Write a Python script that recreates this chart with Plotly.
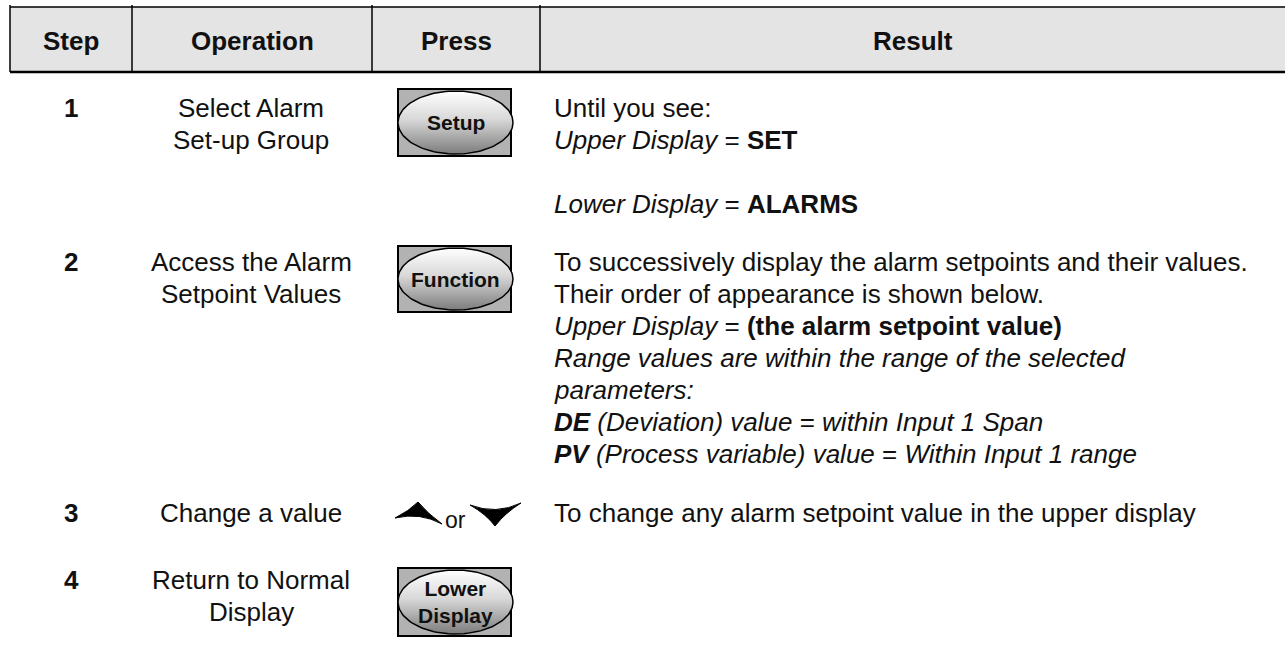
import numpy as np
import plotly.graph_objects as go

W, H = 1285, 652
FONT = "Liberation Sans, Arial, sans-serif"

# ---- table content ----
headers = ["Step", "Operation", "Press", "Result"]
steps = ["1", "2", "3", "4"]
operations = [
    ["Select Alarm", "Set-up Group"],
    ["Access the Alarm", "Setpoint Values"],
    ["Change a value"],
    ["Return to Normal", "Display"],
]
press_keys = ["Setup", "Function", "arrows", "Lower<br>Display"]
results = [
    ["Until you see:",
     "<i>Upper Display</i> = <b>SET</b>",
     "",
     "<i>Lower Display</i> = <b>ALARMS</b>"],
    ["To successively display the alarm setpoints and their values.",
     "Their order of appearance is shown below.",
     "<i>Upper Display</i> = <b>(the alarm setpoint value)</b>",
     "<i>Range values are within the range of the selected</i>",
     "<i>parameters:</i>",
     "<b><i>DE</i></b><i> (Deviation) value</i> = <i>within Input 1 Span</i>",
     "<b><i>PV</i></b><i> (Process variable) value</i> = <i>Within Input 1 range</i>"],
    ["To change any alarm setpoint value in the upper display"],
    [],
]

# ---- layout geometry ----
col_edges = [10, 132, 372, 540, W]
header_top, header_bot = 7, 72
row_first_line = [108, 262, 513, 580]
line_h = 32
key_boxes = [(89, 156), (246, 312), None, (568, 636)]
key_x = (398, 511)

fig = go.Figure()
shapes = []
ann = []

# header band
shapes.append(dict(type="rect", x0=col_edges[0], x1=W, y0=header_top, y1=header_bot,
                   fillcolor="#e4e4e4", line=dict(width=0), layer="below"))
shapes.append(dict(type="line", x0=col_edges[0], x1=W, y0=header_top, y1=header_top,
                   line=dict(color="black", width=1.5)))
shapes.append(dict(type="line", x0=col_edges[0], x1=W, y0=header_bot, y1=header_bot,
                   line=dict(color="black", width=2.5)))
for xe in col_edges[:4]:
    shapes.append(dict(type="line", x0=xe, x1=xe, y0=header_top - 2, y1=header_bot,
                       line=dict(color="black", width=1.5)))

centers = [(col_edges[i] + col_edges[i + 1]) / 2 for i in range(4)]
for i, h in enumerate(headers):
    ann.append(dict(x=centers[i], y=(header_top + header_bot) / 2 + 1, text=f"<b>{h}</b>",
                    showarrow=False, xanchor="center", yanchor="middle",
                    font=dict(family=FONT, size=26, color="#111")))

body_font = dict(family=FONT, size=26, color="#111")
for r in range(4):
    y0 = row_first_line[r]
    ann.append(dict(x=centers[0], y=y0, text=f"<b>{steps[r]}</b>", showarrow=False,
                    xanchor="center", yanchor="middle", font=body_font))
    for k, line in enumerate(operations[r]):
        ann.append(dict(x=centers[1] - 1, y=y0 + k * line_h, text=line, showarrow=False,
                        xanchor="center", yanchor="middle", font=body_font))
    for k, line in enumerate(results[r]):
        if line:
            ann.append(dict(x=552, y=y0 + k * line_h, text=line, showarrow=False,
                            xanchor="left", yanchor="middle", font=body_font))

# key buttons
t = np.linspace(0, 2 * np.pi, 120)
for r, key in enumerate(press_keys):
    box = key_boxes[r]
    if box is None:
        continue
    by0, by1 = box
    shapes.append(dict(type="rect", x0=key_x[0], x1=key_x[1], y0=by0, y1=by1,
                       fillcolor="#b2b2b2", line=dict(color="black", width=2), layer="below"))
    cx, cy = (key_x[0] + key_x[1]) / 2 + 1, (by0 + by1) / 2
    rx, ry = (key_x[1] - key_x[0]) / 2 + 1, (by1 - by0) / 2 - 2
    fig.add_trace(go.Scatter(
        x=cx + rx * np.cos(t), y=cy + ry * np.sin(t), mode="lines", fill="toself",
        line=dict(color="black", width=1.5),
        fillgradient=dict(type="vertical", start=cy - ry, stop=cy + ry,
                          colorscale=[[0, "#ffffff"], [0.45, "#d8d8d8"], [1, "#7c7c7c"]]),
        hoverinfo="skip", showlegend=False))
    ann.append(dict(x=cx, y=cy, text=f"<b>{key}</b>", showarrow=False,
                    xanchor="center", yanchor="middle",
                    font=dict(family=FONT, size=21, color="#111")))

# arrows (step 3)
ya = row_first_line[2]
shapes.append(dict(type="path",
                   path=f"M 395,{ya+5} Q 409,{ya-2} 418,{ya-11} Q 428,{ya+1} 442,{ya+11} Q 420,{ya-1} 395,{ya+5} Z",
                   fillcolor="black", line=dict(color="black", width=1)))
shapes.append(dict(type="path",
                   path=f"M 470,{ya-8} Q 496,{ya+2} 521,{ya-10} Q 505,{ya} 495,{ya+13} Q 486,{ya+1} 470,{ya-8} Z",
                   fillcolor="black", line=dict(color="black", width=1)))
ann.append(dict(x=455, y=ya + 7, text="or", showarrow=False, xanchor="center",
                yanchor="middle", font=dict(family=FONT, size=23, color="#111")))

fig.update_layout(
    width=W, height=H, margin=dict(l=0, r=0, t=0, b=0),
    paper_bgcolor="white", plot_bgcolor="white",
    xaxis=dict(range=[0, W], visible=False, fixedrange=True),
    yaxis=dict(range=[H, 0], visible=False, fixedrange=True),
    shapes=shapes, annotations=ann, showlegend=False,
)
fig.write_html("out.html", config={"displayModeBar": False},
               post_script="document.body.style.margin='0';document.body.style.overflow='hidden';")
